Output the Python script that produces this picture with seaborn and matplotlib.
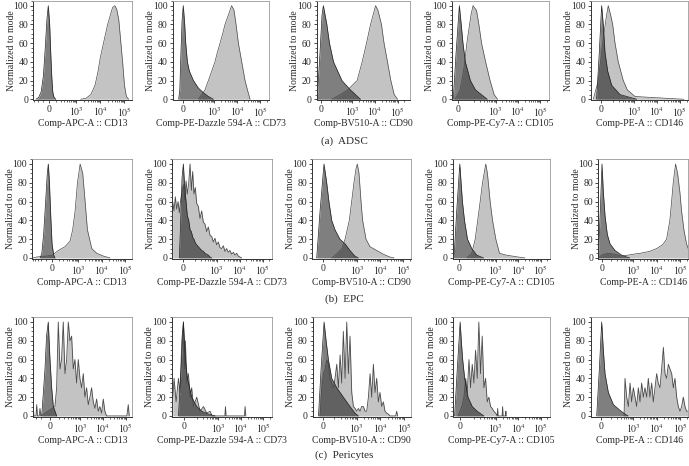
# Flow cytometry overlays: isotype control (dark) vs marker stain (light)
# for ADSC, EPC and pericytes, five surface markers each.

import matplotlib
matplotlib.use("Agg")
import matplotlib.pyplot as plt
from matplotlib.ticker import AutoMinorLocator
import seaborn as sns


# --- Data: % of mode at fluorescence values ----------------------------------
# (a) ADSC
adsc_cd13_iso_x = [-250, -180, -130, -90, -60, -35, -15, 5, 20, 35, 50, 70, 100]
adsc_cd13_iso_y = [0, 2, 8, 25, 55, 85, 100, 80, 50, 25, 8, 2, 0]
adsc_cd13_x = [1500, 2500, 4000, 6000, 8000, 1e4, 1.4e4, 2e4, 2.6e4, 3.2e4, 4e4,
               4.8e4, 5.8e4, 7e4, 8.5e4, 1e5, 1.2e5, 1.5e5]
adsc_cd13_y = [0, 1, 5, 15, 30, 45, 62, 80, 90, 98, 100, 96, 85, 62, 38, 15, 3, 0]

adsc_cd73_iso_x = [-35, -25, -15, -5, 5, 17, 26, 41, 61, 110, 195, 330, 553, 910]
adsc_cd73_iso_y = [0, 10, 50, 85, 100, 80, 60, 40, 30, 20, 12, 7, 3, 0]
adsc_cd73_x = [195, 278, 392, 553, 773, 1070, 1360, 1785, 2320, 2940, 4100, 5700,
               7250, 8840, 11200, 15600, 21800, 27700, 36000]
adsc_cd73_y = [0, 5, 10, 20, 30, 40, 50, 60, 70, 80, 90, 100, 95, 80, 60, 40, 20, 10, 0]

adsc_cd90_iso_x = [-30, -6, 11, 22.6, 55, 84, 141, 353, 840, 1400, 2340]
adsc_cd90_iso_y = [0, 50, 90, 100, 80, 60, 40, 20, 10, 5, 0]
adsc_cd90_x = [116, 295, 640, 1665, 2775, 4300, 6480, 10800, 13700, 19500, 25300,
               35900, 50400, 70700, 100000]
adsc_cd90_y = [0, 5, 10, 20, 40, 60, 80, 100, 95, 80, 60, 40, 20, 5, 0]

adsc_cd105_iso_x = [-23, -10, 4, 12, 20, 32, 65, 117, 250, 411]
adsc_cd105_iso_y = [0, 50, 100, 80, 60, 40, 20, 10, 4, 0]
adsc_cd105_x = [-15, 7, 23, 41, 70, 89, 131, 169, 225, 345, 550, 838, 1200]
adsc_cd105_y = [0, 10, 30, 60, 90, 100, 95, 80, 60, 40, 20, 5, 0]

adsc_cd146_iso_x = [-31, -11.5, 4.6, 16, 28.5, 50, 89, 230, 640, 1270]
adsc_cd146_iso_y = [0, 50, 100, 80, 50, 30, 15, 5, 2, 0]
adsc_cd146_x = [-58, -18.6, 4.6, 20.7, 41, 55, 78, 101, 133, 190, 323, 490, 1070,
                4900, 26500, 150000]
adsc_cd146_y = [0, 20, 50, 70, 90, 100, 90, 80, 60, 40, 20, 10, 3, 2, 1, 0]

# (b) EPC
epc_cd13_iso_x = [-230, -190, -150, -110, -80, -63, -45, -25, -5, 20, 40]
epc_cd13_iso_y = [0, 5, 25, 60, 90, 100, 80, 45, 15, 3, 0]
epc_cd13_x = [-500, -350, -100, 0, 97, 247, 430, 560, 718, 910, 1190, 1540, 1950,
              2450, 3770, 6150, 11900, 23000]
epc_cd13_y = [0, 1, 2, 3, 8, 12, 18, 30, 50, 80, 100, 90, 60, 30, 10, 5, 2, 0]

epc_cd73_iso_x = [-23, -13.5, -4.5, 4.5, 13.5, 23, 32, 43, 54, 66, 79, 93, 109, 128,
                  153, 184, 219, 261, 310, 366, 435, 516, 610]
epc_cd73_iso_y = [0, 40, 85, 100, 75, 60, 45, 40, 30, 28, 22, 20, 16, 14, 12, 10, 8,
                  7, 5, 4, 3, 1, 0]
epc_cd73_x = [-79, -66, -54, -43, -32, -23, -13.5, -4.5, 4.5, 13.5, 23, 32, 43, 54,
              66, 79, 93, 109, 128, 153, 184, 219, 261, 310, 366, 435, 516, 610, 720,
              850, 1000, 1190, 1400, 1655, 1960, 2320, 2730, 3240, 3820, 4490, 5350,
              6300, 7440, 8800, 10400, 12300]
epc_cd73_y = [60, 50, 65, 52, 60, 48, 62, 70, 78, 62, 82, 68, 80, 100, 72, 92, 68,
              75, 58, 55, 42, 50, 38, 36, 28, 33, 24, 23, 17, 21, 14, 17, 11, 10, 13,
              7, 10, 6, 8, 4, 6, 3, 5, 2, 1, 0]

epc_cd90_iso_x = [-40, -16.7, 8.4, 26, 42, 65, 99, 172, 293, 480, 795, 1115]
epc_cd90_iso_y = [0, 50, 100, 80, 60, 40, 30, 20, 15, 8, 2, 0]
epc_cd90_x = [65, 130, 210, 293, 453, 573, 720, 888, 1010, 1200, 1470, 1720, 2420,
              3600, 7000, 13600, 26600, 40000]
epc_cd90_y = [0, 5, 10, 20, 40, 60, 80, 95, 100, 90, 60, 40, 20, 12, 8, 4, 1, 0]

epc_cd105_iso_x = [-29, -14, 2, 8.6, 15.6, 27, 46, 81, 143, 292]
epc_cd105_iso_y = [0, 50, 100, 80, 60, 40, 20, 10, 3, 0]
epc_cd105_x = [41, 81, 120, 158, 205, 262, 366, 435, 575, 734, 1030, 1500, 3000,
               10000, 20000]
epc_cd105_y = [0, 5, 20, 40, 60, 80, 100, 90, 60, 40, 20, 5, 3, 1, 0]

epc_cd146_iso_x = [-30, -12, 3, 14.6, 30, 52, 82, 153, 312, 518, 700]
epc_cd146_iso_y = [0, 50, 100, 70, 45, 25, 15, 8, 3, 1, 0]
epc_cd146_x = [-30, 0, 50, 150, 300, 600, 1000, 2000, 5000, 10000, 18000, 26700,
               36800, 43700, 51300, 64500, 78800, 99000, 116600, 147000, 190000,
               240000]
epc_cd146_y = [0, 3, 5, 4, 2, 3, 4, 5, 7, 10, 14, 20, 40, 60, 80, 100, 90, 70, 50,
               30, 15, 8]

# (c) Pericytes
peri_cd13_iso_x = [-93, -75, -52, -35, -17, 0, 17, 34, 72]
peri_cd13_iso_y = [0, 20, 50, 85, 100, 60, 30, 10, 0]
peri_cd13_x = [-270, -256, -240, -190, -176, -160, -130, -118, -105, 52, 72, 93, 118,
               144, 176, 213, 256, 305, 363, 431, 510, 605, 716, 847, 1000, 1185,
               1400, 1650, 1955, 2310, 2730, 3220, 3810, 4500, 5320, 6290, 7420, 8770,
               10360, 12230, 14450, 110000, 127000, 140000]
peri_cd13_y = [0, 10, 0, 0, 12, 0, 0, 8, 0, 10, 30, 100, 50, 60, 100, 45, 60, 100,
               80, 85, 50, 60, 35, 60, 40, 30, 45, 20, 30, 12, 20, 30, 15, 8, 18, 5,
               10, 3, 18, 5, 0, 0, 12, 0]

peri_cd73_iso_x = [-36, -18.6, -4, 8, 20.6, 51, 100, 177, 357, 714]
peri_cd73_iso_y = [0, 50, 100, 60, 40, 20, 10, 5, 2, 0]
peri_cd73_x = [-85, -72, -54, -36, -25, -14, -4, 2, 8, 16.4, 27, 39, 51, 66, 100, 147,
               212, 300, 425, 520, 1950, 2070, 2200, 14500, 15600, 16800]
peri_cd73_y = [20, 40, 15, 40, 25, 80, 100, 50, 80, 35, 45, 20, 30, 10, 20, 5, 10,
               3, 5, 0, 0, 10, 0, 0, 10, 0]

peri_cd90_iso_x = [-39, -18, 5, 20.5, 39, 70, 132, 265, 515, 845, 1170]
peri_cd90_iso_y = [0, 50, 100, 80, 60, 40, 30, 20, 10, 3, 0]
peri_cd90_x = [-25.7, -12.7, 0, 12.7, 25.7, 39, 54, 70, 88, 108, 132, 158, 190, 224,
               265, 316, 373, 439, 515, 610, 718, 850, 990, 1170, 1370, 1600, 1900,
               2250, 2630, 3100, 3650, 4290, 5030, 5900, 6940, 8190, 9600, 11300,
               13300, 15600, 18400, 21600, 25400, 44000, 48600, 53000]
peri_cd90_y = [0, 30, 45, 50, 60, 55, 40, 35, 30, 40, 55, 30, 65, 35, 90, 40, 100,
               45, 85, 25, 10, 8, 5, 8, 5, 10, 10, 5, 5, 20, 45, 20, 55, 25, 40, 15,
               25, 10, 15, 5, 3, 2, 0, 0, 5, 0]

peri_cd105_iso_x = [-29, -14, 1, 6.8, 14, 25, 46, 81, 143, 290]
peri_cd105_iso_y = [0, 50, 100, 80, 60, 40, 20, 10, 5, 0]
peri_cd105_x = [-10, 0, 10, 21, 31, 41, 53, 66, 81, 99, 119, 143, 170, 204, 243, 290,
                345, 410, 487, 577, 690, 810, 980, 1140, 1200, 1260, 1900, 2000, 2100,
                2700, 2800, 2900]
peri_cd105_y = [0, 5, 10, 20, 40, 25, 60, 30, 55, 35, 70, 40, 100, 45, 85, 30, 40,
                15, 20, 10, 8, 5, 3, 0, 8, 0, 0, 10, 0, 0, 5, 0]

peri_cd146_iso_x = [-32.6, -10.6, 8, 21.5, 35.6, 67, 130, 265, 440, 600]
peri_cd146_iso_y = [0, 50, 100, 70, 45, 25, 12, 6, 2, 0]
peri_cd146_x = [400, 440, 520, 615, 726, 852, 1004, 1190, 1395, 1650, 1945, 2285,
                2700, 3170, 3760, 4400, 5180, 6130, 7210, 8500, 10000, 11700, 13900,
                16300, 19400, 22700, 26700, 31600, 37100, 44000, 51600, 60600, 71800,
                84300, 99600, 117000, 138000, 163000, 191000, 220000]
peri_cd146_y = [0, 40, 20, 10, 35, 15, 30, 20, 10, 30, 15, 35, 20, 30, 20, 40, 20,
                35, 15, 30, 45, 35, 30, 50, 73, 45, 40, 55, 50, 45, 30, 40, 20, 10, 5,
                10, 20, 10, 5, 5]

channel_labels = ["Comp-APC-A :: CD13", "Comp-PE-Dazzle 594-A :: CD73",
                  "Comp-BV510-A :: CD90", "Comp-PE-Cy7-A :: CD105",
                  "Comp-PE-A :: CD146"]
row_captions = ["(a)  ADSC", "(b)  EPC", "(c)  Pericytes"]


# --- Layout (pixels in the 689x466 canvas) -----------------------------------
FIG_W, FIG_H = 689, 466
ROW_Y = [(1, 100), (159.3, 258.7), (317.3, 416.7)]
COL_X = [
    [(33.3, 131.7), (172.7, 269), (316.5, 410), (451.7, 549.3), (590.7, 688)],
    [(32.3, 132), (172.3, 271.7), (312.3, 411), (452.7, 550), (598.3, 688)],
    [(32.7, 132.3), (171.7, 271.7), (312.7, 410.7), (453.3, 550), (590.7, 688.5)],
]
# asinh (biexponential-like) axis: linear width, x min, x max
SCALES = [
    [(151, -333, 2.0e5), (85, -100, 2.4e5), (84, -37, 3.5e5), (41, -31, 2.6e5), (68, -84, 2.3e5)],
    [(154, -547, 2.0e5), (67, -83, 2.5e5), (63, -78, 2.2e5), (50, -37, 2.6e5), (89, -30, 2.2e5)],
    [(100, -273, 1.9e5), (59, -97, 2.4e5), (78, -97, 1.9e5), (50, -37, 2.6e5), (81, -93, 2.3e5)],
]
CAPTION_Y = [141, 299, 455]
XLABEL_GAP = [23.5, 24, 23.5]   # px from bottom spine to x label centre
YLABEL_GAP = 22                 # px from left spine to y label centre

panels = [
    [(adsc_cd13_iso_x, adsc_cd13_iso_y, adsc_cd13_x, adsc_cd13_y),
     (adsc_cd73_iso_x, adsc_cd73_iso_y, adsc_cd73_x, adsc_cd73_y),
     (adsc_cd90_iso_x, adsc_cd90_iso_y, adsc_cd90_x, adsc_cd90_y),
     (adsc_cd105_iso_x, adsc_cd105_iso_y, adsc_cd105_x, adsc_cd105_y),
     (adsc_cd146_iso_x, adsc_cd146_iso_y, adsc_cd146_x, adsc_cd146_y)],
    [(epc_cd13_iso_x, epc_cd13_iso_y, epc_cd13_x, epc_cd13_y),
     (epc_cd73_iso_x, epc_cd73_iso_y, epc_cd73_x, epc_cd73_y),
     (epc_cd90_iso_x, epc_cd90_iso_y, epc_cd90_x, epc_cd90_y),
     (epc_cd105_iso_x, epc_cd105_iso_y, epc_cd105_x, epc_cd105_y),
     (epc_cd146_iso_x, epc_cd146_iso_y, epc_cd146_x, epc_cd146_y)],
    [(peri_cd13_iso_x, peri_cd13_iso_y, peri_cd13_x, peri_cd13_y),
     (peri_cd73_iso_x, peri_cd73_iso_y, peri_cd73_x, peri_cd73_y),
     (peri_cd90_iso_x, peri_cd90_iso_y, peri_cd90_x, peri_cd90_y),
     (peri_cd105_iso_x, peri_cd105_iso_y, peri_cd105_x, peri_cd105_y),
     (peri_cd146_iso_x, peri_cd146_iso_y, peri_cd146_x, peri_cd146_y)],
]


# --- Style -------------------------------------------------------------------
sns.set_style("ticks")
plt.rcParams["font.family"] = ["Liberation Serif", "DejaVu Serif"]
plt.rcParams["mathtext.fontset"] = "stix"
TEXT = "#2a2a2a"
SAMPLE_FILL = "#c3c3c3"


def draw_hist(ax, x, y, fill, alpha, edge, lw):
    ax.fill_between(x, y, 0, color=fill, alpha=alpha, lw=0)
    sns.lineplot(x=x, y=y, ax=ax, color=edge, lw=lw, sort=False, estimator=None)


fig = plt.figure(figsize=(FIG_W / 100, FIG_H / 100), dpi=100)

for r in range(3):
    top, bottom = ROW_Y[r]
    for c in range(5):
        left, right = COL_X[r][c]
        ax = fig.add_axes([left / FIG_W, 1 - bottom / FIG_H,
                           (right - left) / FIG_W, (bottom - top) / FIG_H])
        w, xmin, xmax = SCALES[r][c]
        ax.set_xscale("asinh", linear_width=w)

        iso_x, iso_y, smp_x, smp_y = panels[r][c]
        noisy = r == 2 or (r == 1 and c == 1)
        draw_hist(ax, smp_x, smp_y, SAMPLE_FILL, 1.0, "#4a4a4a", 0.6 if noisy else 0.5)
        draw_hist(ax, iso_x, iso_y, "black", 0.5, "#1f1f1f", 0.5)

        ax.set_xlim(xmin, xmax)
        ax.set_ylim(-0.8, 105)
        ax.set_xticks([0, 1e3, 1e4, 1e5])
        ax.set_xticklabels(["0", r"$10^3$", r"$10^4$", r"$10^5$"])
        minors = [v for v in range(-500, 0, 100) if v > xmin]
        minors += [k * 100 for k in range(1, 10)]
        minors += [k * 1000 for k in range(2, 10)] + [k * 10000 for k in range(2, 10)]
        minors += [2e5]
        ax.set_xticks([m for m in minors if xmin < m < xmax], minor=True)
        ax.set_yticks([0, 20, 40, 60, 80, 100])
        ax.yaxis.set_minor_locator(AutoMinorLocator(4))

        ax.tick_params(which="major", direction="out", length=2.5, width=0.6,
                       labelsize=7, pad=1.2, colors=TEXT)
        ax.tick_params(which="minor", direction="out", length=1.3, width=0.5,
                       colors=TEXT)
        for side in ["left", "bottom"]:
            ax.spines[side].set_color("#333333")
            ax.spines[side].set_linewidth(0.7)
        for side in ["top", "right"]:
            ax.spines[side].set_color("#9a9a9a")
            ax.spines[side].set_linewidth(0.6)

        ax.set_xlabel(channel_labels[c], fontsize=7, color=TEXT)
        ax.set_ylabel("Normalized to mode", fontsize=7, color=TEXT)
        ax.xaxis.set_label_coords(0.5, -XLABEL_GAP[r] / (bottom - top))
        ax.xaxis.label.set_verticalalignment("center")
        ax.yaxis.set_label_coords(-YLABEL_GAP / (right - left), 0.5)
        ax.yaxis.label.set(va="center", ha="center", rotation_mode="anchor")

    fig.text(0.5, 1 - CAPTION_Y[r] / FIG_H, row_captions[r], ha="center",
             va="center", fontsize=8, color=TEXT)

fig.savefig("out.png", dpi=100)
